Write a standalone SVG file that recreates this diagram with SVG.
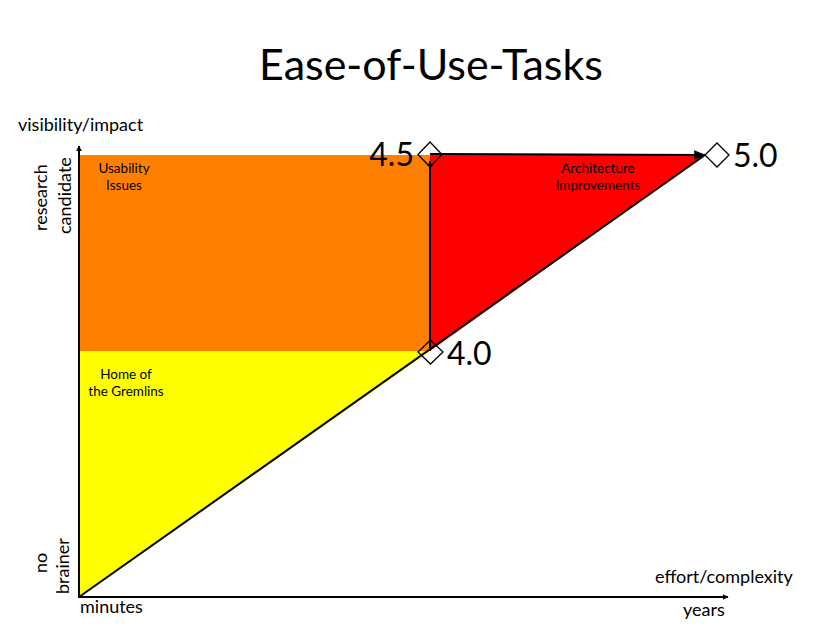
<svg xmlns="http://www.w3.org/2000/svg" width="827" height="637" viewBox="0 0 827 637">
<defs>
<marker id="ah" viewBox="0 0 10 10" refX="9" refY="5" markerWidth="6" markerHeight="6" orient="auto" markerUnits="userSpaceOnUse">
<path d="M0,0 L10,5 L0,10 z" fill="#000"/>
</marker>
<marker id="ah2" viewBox="0 0 10 10" refX="9" refY="5" markerWidth="12" markerHeight="12" orient="auto" markerUnits="userSpaceOnUse">
<path d="M0,1 L10,5 L0,9 z" fill="#000"/>
</marker>
<style>
text{font-family:"Lato","Open Sans","Liberation Sans",sans-serif;fill:#000}
.lab{font-size:13.5px;text-anchor:middle}
.ax{font-size:18px}
.big{font-size:32px}
.dia{fill:none;stroke:#000;stroke-width:1.3}
.ln{stroke:#000;stroke-width:2;fill:none}
</style>
</defs>
<rect width="827" height="637" fill="#fff"/>
<text x="431" y="80" font-size="43" text-anchor="middle">Ease-of-Use-Tasks</text>
<g id="regions">
<rect id="usability" x="80" y="155" width="350" height="196" fill="#ff8000"/>
<polygon id="gremlins" points="80,351 430,351 80,597" fill="#ffff00"/>
<polygon id="architecture" points="430,155 705,155 430,351" fill="#ff0000"/>
</g>
<g id="labels">
<text class="lab" x="124" y="173">Usability</text>
<text class="lab" x="124" y="190">Issues</text>
<text class="lab" x="126" y="379">Home of</text>
<text class="lab" x="126" y="396">the Gremlins</text>
<text class="lab" x="598" y="173">Architecture</text>
<text class="lab" x="598" y="190">Improvements</text>
</g>
<g id="connectors">
<line class="ln" x1="79" y1="598" x2="79" y2="146" marker-end="url(#ah)"/>
<line class="ln" x1="78" y1="597" x2="728" y2="597" marker-end="url(#ah)"/>
<line class="ln" x1="79" y1="597" x2="705" y2="155"/>
<line class="ln" x1="430" y1="351" x2="430" y2="161" marker-end="url(#ah)"/>
<line class="ln" x1="430" y1="154" x2="705" y2="155" marker-end="url(#ah2)"/>
</g>
<g id="n45"><polygon class="dia" points="430,142 442,154.5 430,167 418,154.5"/><text class="big" x="414" y="166" text-anchor="end">4.5</text></g>
<g id="n50"><polygon class="dia" points="717,143 729,155 717,167 705,155"/><text class="big" x="733" y="167">5.0</text></g>
<g id="n40"><polygon class="dia" points="430.5,340 443,352 430.5,364 418,352"/><text class="big" x="447" y="365">4.0</text></g>
<g id="axislabels">
<text class="ax" x="18" y="131">visibility/impact</text>
<text class="ax" transform="translate(47,231) rotate(-90)">research</text>
<text class="ax" transform="translate(71,234) rotate(-90)">candidate</text>
<text class="ax" transform="translate(47,573) rotate(-90)">no</text>
<text class="ax" transform="translate(69,594) rotate(-90)">brainer</text>
<text class="ax" x="80" y="613">minutes</text>
<text class="ax" x="683" y="616">years</text>
<text class="ax" x="655" y="583">effort/complexity</text>
</g>
</svg>
